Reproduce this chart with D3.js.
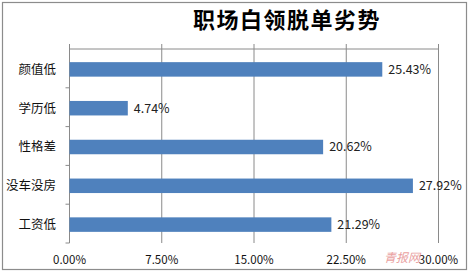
<!DOCTYPE html>
<html>
<head>
<meta charset="utf-8">
<script src="https://cdn.jsdelivr.net/npm/d3@7"></script>
<style>
  body { margin: 0; background: #fff; }
  svg text { font-family: "Noto Sans CJK SC", "DejaVu Sans", sans-serif; }
</style>
</head>
<body>
<div id="chart"></div>
<script>
// chart data
const categories = ['颜值低', '学历低', '性格差', '没车没房', '工资低'];
const values = [25.43, 4.74, 20.62, 27.92, 21.29];
const ticks = [0, 7.5, 15, 22.5, 30];
const title = '职场白领脱单劣势';

const W = 470, H = 273;
const m = {top: 49, left: 69.5, right: 31.5, bottom: 30};

const svg = d3.select('#chart').append('svg')
  .attr('width', W).attr('height', H);

// outer frame
svg.append('rect')
  .attr('x', 2.5).attr('y', 2.5)
  .attr('width', 464).attr('height', 267)
  .attr('fill', '#fff')
  .attr('stroke', '#8c8c8c')
  .attr('stroke-width', 1.2);

const x = d3.scaleLinear().domain([0, 30]).range([m.left, W - m.right]);
const y = d3.scaleBand().domain(categories).range([m.top, 243]).paddingInner(0).paddingOuter(0);

// gridlines (extending above top axis as tick marks)
svg.append('g')
  .selectAll('line')
  .data(ticks.slice(1))
  .join('line')
  .attr('x1', d => x(d)).attr('x2', d => x(d))
  .attr('y1', 44).attr('y2', 243)
  .attr('stroke', '#8a8a8a').attr('stroke-width', 1);

// top axis line
svg.append('line')
  .attr('x1', x(0)).attr('x2', x(30))
  .attr('y1', m.top).attr('y2', m.top)
  .attr('stroke', '#8a8a8a');
svg.append('line')
  .attr('x1', x(0)).attr('x2', x(0))
  .attr('y1', 44).attr('y2', m.top)
  .attr('stroke', '#8a8a8a');

// category axis
svg.append('line')
  .attr('x1', x(0)).attr('x2', x(0))
  .attr('y1', m.top).attr('y2', 243)
  .attr('stroke', '#8a8a8a');
svg.append('g')
  .selectAll('line')
  .data(categories)
  .join('line')
  .attr('x1', x(0) - 4).attr('x2', x(0))
  .attr('y1', d => y(d) + y.bandwidth()).attr('y2', d => y(d) + y.bandwidth())
  .attr('stroke', '#8a8a8a');

// bars
const bh = 14.5;
svg.append('g')
  .selectAll('rect')
  .data(values)
  .join('rect')
  .attr('x', x(0))
  .attr('y', (d, i) => y(categories[i]) + y.bandwidth() / 2 - bh / 2 + 1)
  .attr('width', d => x(d) - x(0))
  .attr('height', bh)
  .attr('fill', '#4f81bd');

// value labels
svg.append('g')
  .selectAll('text')
  .data(values)
  .join('text')
  .attr('x', d => x(d) + 6)
  .attr('y', (d, i) => y(categories[i]) + y.bandwidth() / 2 + 1)
  .attr('dy', '0.35em')
  .attr('font-size', 12.5)
  .attr('fill', '#222')
  .text(d => d.toFixed(2) + '%');

// category labels
svg.append('g')
  .selectAll('text')
  .data(categories)
  .join('text')
  .attr('x', 56)
  .attr('y', d => y(d) + y.bandwidth() / 2 + 1)
  .attr('dy', '0.35em')
  .attr('text-anchor', 'end')
  .attr('font-size', 12.5)
  .attr('fill', '#111')
  .text(d => d);

// tick labels at bottom
svg.append('g')
  .selectAll('text')
  .data(ticks)
  .join('text')
  .attr('x', d => x(d))
  .attr('y', 260)
  .attr('dy', '0.35em')
  .attr('text-anchor', 'middle')
  .attr('font-size', 11.5)
  .attr('fill', '#111')
  .text(d => d.toFixed(2) + '%');

// title
svg.append('text')
  .attr('x', 287)
  .attr('y', 20)
  .attr('dy', '0.35em')
  .attr('text-anchor', 'middle')
  .attr('font-size', 22)
  .attr('letter-spacing', 1.5)
  .attr('font-weight', 'bold')
  .attr('fill', '#000')
  .text(title);

// watermark
svg.append('text')
  .attr('x', 384)
  .attr('y', 258)
  .attr('dy', '0.35em')
  .attr('font-size', 12)
  .attr('font-style', 'italic')
  .attr('fill', '#e58a8a')
  .attr('opacity', 0.8)
  .text('青报网');
</script>
</body>
</html>
